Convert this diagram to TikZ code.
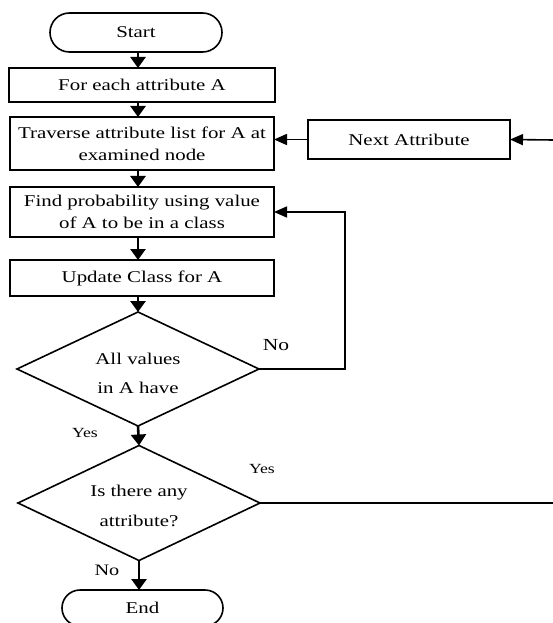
\documentclass[tikz,border=0pt]{standalone}
\usepackage{fontspec}
\setmainfont{Liberation Serif}[FakeStretch=1.27]
\usetikzlibrary{shapes.geometric,shapes.misc,arrows.meta,calc}
\begin{document}
\begin{tikzpicture}[x=1bp,y=-1bp,
  every node/.style={inner sep=0pt,outer sep=0pt},
  boxtxt/.style={font=\fontsize{16.5}{22}\selectfont,align=center},
  procbox/.style={draw,line width=1.6bp,rectangle,boxtxt},
  termbox/.style={draw,line width=1.6bp,rounded rectangle,boxtxt},
  decbox/.style={draw,line width=1.6bp,diamond},
  vflow/.style={line width=2.6bp,-{Triangle[length=11bp,width=15bp]}},
  hflow/.style={line width=1.6bp,-{Triangle[length=13bp,width=11bp]}},
  plain/.style={line width=1.6bp},
  lbl/.style={font=\fontsize{#1}{#1}\selectfont}
]
\useasboundingbox (0,0) rectangle (553,623);
\fill[white] (0,0) rectangle (553,623);

\node[termbox,minimum width=172bp,minimum height=39bp] (start) at (136,32.5) {Start};
\node[procbox,minimum width=266bp,minimum height=34bp] (each) at (142,85) {For each attribute A};
\node[procbox,minimum width=264bp,minimum height=53bp] (trav) at (142,143.5) {Traverse attribute list for A at\\examined node};
\node[procbox,minimum width=264bp,minimum height=50bp] (find) at (142,212) {Find probability using value\\of A to be in a class};
\node[procbox,minimum width=264bp,minimum height=36bp] (upd) at (142,278) {Update Class for A};
\node[decbox,minimum width=242bp,minimum height=114bp] (d1) at (138,369) {};
\node[boxtxt,font=\fontsize{16.5}{29}\selectfont] (d1t) at (138,373.5) {All values\\in A have};
\node[decbox,minimum width=242bp,minimum height=115bp] (d2) at (139,503) {};
\node[boxtxt,font=\fontsize{16.5}{30}\selectfont] (d2t) at (139,506) {Is there any\\attribute?};
\node[termbox,minimum width=161bp,minimum height=36bp] (end) at (142.5,608) {End};
\node[procbox,minimum width=202bp,minimum height=39bp] (next) at (409,139.5) {Next Attribute};

\coordinate (r1) at (553,503);
\coordinate (r2) at (553,140);

\draw[vflow] (start.south -| 138,0) -- (138,68);
\draw[vflow] (each.south -| 138,0) -- (trav.north -| 138,0);
\draw[vflow] (trav.south -| 138,0) -- (find.north -| 138,0);
\draw[vflow] (find.south -| 138,0) -- (upd.north -| 138,0);
\draw[vflow] (upd.south -| 138,0) -- (d1.north);
\draw[vflow] (d1.south) -- (d2.north);
\draw[vflow] (d2.south) -- (end.north -| d2.south);

\draw[hflow] (d1.east) -- (345,369) |- (find.east);
\draw[plain] (d2.east) -- (r1);
\draw[hflow] (r2) -- (next.east);
\draw[hflow] (next.west) -- (trav.east |- next.west);

\node[lbl=17] (lno1) at (276,345) {No};
\node[lbl=14] (lyes1) at (85,433) {Yes};
\node[lbl=14] (lyes2) at (262,469) {Yes};
\node[lbl=16] (lno2) at (107,570) {No};
\end{tikzpicture}
\end{document}
